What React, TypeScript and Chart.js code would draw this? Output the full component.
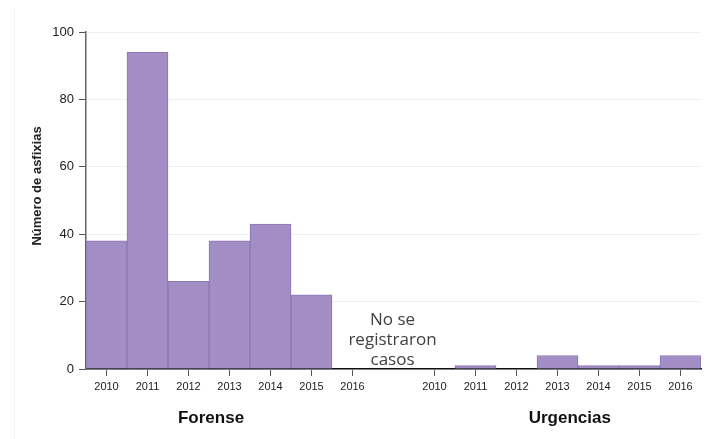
import React, { useEffect, useRef } from "react";
import { Chart, registerables } from "chart.js";

Chart.register(...registerables);

const years = ["2010", "2011", "2012", "2013", "2014", "2015", "2016"];
const forense = [38, 94, 26, 38, 43, 22, 0];
const urgencias = [0, 1, 0, 4, 1, 1, 4];
const groupNames = ["Forense", "Urgencias"];
const yTicks = [0, 20, 40, 60, 80, 100];
const noteLines = ["No se", "registraron", "casos"];
const yTitle = "Número de asfixias";

const labels = [...years, "", ...years];
const values: (number | null)[] = [...forense, null, ...urgencias];

const textPlugin = {
  id: "customText",
  afterDraw(chart: any) {
    const { ctx, chartArea } = chart;
    const x = chart.scales.x;
    ctx.save();
    ctx.fillStyle = "#222";
    ctx.font = "bold 13px 'Liberation Sans', Arial, sans-serif";
    ctx.textAlign = "center";
    ctx.textBaseline = "middle";
    ctx.translate(37, 186);
    ctx.rotate(-Math.PI / 2);
    ctx.fillText(yTitle, 0, 0);
    ctx.restore();

    ctx.save();
    ctx.fillStyle = "#111";
    ctx.font = "bold 17px 'Liberation Sans', Arial, sans-serif";
    ctx.textAlign = "center";
    ctx.textBaseline = "middle";
    const x0 = x.getPixelForValue(0);
    const x1 = x.getPixelForValue(1);
    const step = x1 - x0;
    ctx.fillText(groupNames[0], x0 + step * 2.55, chartArea.bottom + 49);
    ctx.fillText(groupNames[1], x0 + step * 11.3, chartArea.bottom + 49);

    ctx.fillStyle = "#404040";
    ctx.font = "17px 'Open Sans', 'Noto Sans', sans-serif";
    const nx = x.getPixelForValue(7);
    noteLines.forEach((t, i) => {
      ctx.fillText(t, nx - 1, chartArea.bottom - 49 + i * 20);
    });
    ctx.restore();
  },
};

export default function App() {
  const ref = useRef<HTMLCanvasElement>(null);
  useEffect(() => {
    if (!ref.current) return;
    const chart = new Chart(ref.current, {
      type: "bar",
      data: {
        labels,
        datasets: [
          {
            data: values,
            backgroundColor: "#a28ec4",
            borderColor: "#8b75b7",
            borderWidth: 1,
            barPercentage: 1,
            categoryPercentage: 1,
          },
        ],
      },
      options: {
        responsive: false,
        animation: false,
        devicePixelRatio: 1,
        layout: { padding: { left: 0, right: 11, top: 32, bottom: 0 } },
        plugins: { legend: { display: false }, tooltip: { enabled: false } },
        scales: {
          x: {
            offset: true,
            afterFit: (s: any) => {
              s.height = 70;
            },
            grid: {
              offset: false,
              drawOnChartArea: false,
              tickLength: 7,
              tickColor: (c: any) => (labels[c.index] === "" ? "rgba(0,0,0,0)" : "#555"),
            },
            border: { color: "#111", width: 1.5 },
            ticks: {
              color: "#222",
              font: { size: 11, family: "'Liberation Sans', Arial, sans-serif" },
              padding: 4,
              maxRotation: 0,
              autoSkip: false,
            },
          },
          y: {
            min: 0,
            max: 100,
            afterFit: (s: any) => {
              s.width = 86;
            },
            afterBuildTicks: (s: any) => {
              s.ticks = yTicks.map((v) => ({ value: v }));
            },
            grid: {
              color: "#edf1f5",
              tickColor: "#555",
              tickLength: 7,
            },
            border: { color: "#666", width: 1.5 },
            ticks: {
              color: "#222",
              font: { size: 13, family: "'Liberation Sans', Arial, sans-serif" },
              padding: 5,
            },
          },
        },
      },
      plugins: [textPlugin],
    });
    return () => chart.destroy();
  }, []);
  return (
    <div style={{ position: "absolute", left: 0, top: 0, width: 712, height: 439, background: "#fff" }}>
      <div style={{ position: "absolute", left: 14, top: 8, width: 1, height: 431, background: "#f2f2f2" }} />
      <canvas ref={ref} width={712} height={439} style={{ position: "absolute", left: 0, top: 0 }} />
    </div>
  );
}
